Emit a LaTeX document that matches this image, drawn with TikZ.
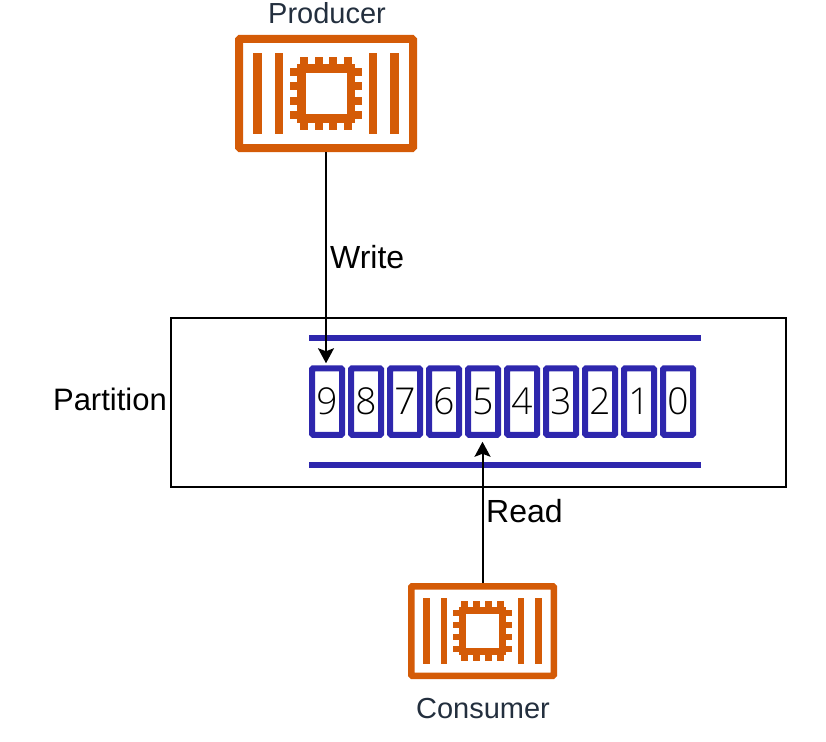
\documentclass[tikz,border=0pt]{standalone}
\usepackage{fontspec}
\setmainfont{Liberation Sans}
\newfontfamily\digitfont[UprightFont=* Light]{Open Sans}
\usepackage[HTML]{xcolor}
\usetikzlibrary{positioning, arrows.meta}
\definecolor{iconorange}{HTML}{D45B07}
\definecolor{cellblue}{HTML}{2E27AD}
\definecolor{iconlabel}{HTML}{232F3E}
\tikzset{
  iconbox/.style={draw=iconorange, line width=#1, rounded corners=1pt, inner sep=0pt},
  cellbox/.style={draw=cellblue, line width=6pt, rounded corners=1pt, inner sep=0pt,
    minimum width=30pt, minimum height=66.5pt, font=\digitfont\fontsize{37}{37}\selectfont},
  railline/.style={draw=cellblue, line width=6pt},
  linkline/.style={line width=2pt, -{Stealth[length=15pt,width=16pt,inset=3pt]}},
  biglabel/.style={font=\fontsize{32}{32}\selectfont, inner sep=0pt},
  iconname/.style={font=\fontsize{29}{29}\selectfont, text=iconlabel, inner sep=0pt},
  chipicon/.pic={
    % bars
    \foreach \barx in {-68.5,-47,47,68.5}
      \fill[iconorange] (\barx-4.2,-40) rectangle (\barx+4.2,40);
    % chip
    \fill[iconorange] (-29,-29) rectangle (29,29);
    \foreach \pinx in {-21.7,-7.2,7.2,21.7} {
      \fill[iconorange] (\pinx-4,-36) rectangle (\pinx+4,36);
      \fill[iconorange] (-36,\pinx-4) rectangle (36,\pinx+4);
    }
    \fill[white] (-20.5,-20.5) rectangle (20.5,20.5);
    \foreach \pinx in {-14.5,0,14.5} {
      \fill[white] (\pinx-3.2,-36.5) rectangle (\pinx+3.2,-29);
      \fill[white] (\pinx-3.2,29) rectangle (\pinx+3.2,36.5);
      \fill[white] (-36.5,\pinx-3.2) rectangle (-29,\pinx+3.2);
      \fill[white] (29,\pinx-3.2) rectangle (36.5,\pinx+3.2);
    }
  }
}

\begin{document}
\begin{tikzpicture}[x=1pt,y=-1pt]
\useasboundingbox (0,0) rectangle (826,741);
% partition
\node[draw, line width=1.5pt, inner sep=0pt, minimum width=615pt, minimum height=169pt] (partition) at (478.5,402.5) {};
\node[biglabel, anchor=east, font=\fontsize{31}{31}\selectfont] (partitionlabel) at (167,399) {Partition};
\draw[railline] (309,338) -- (700.5,338);
\draw[railline] (309,465) -- (700.5,465);
\foreach \d [count=\i from 0] in {9,8,...,0}
  \node[cellbox] (c\d) at ({327+39*\i},401.5) {\d};
% producer
\node[iconbox=8pt, minimum width=174pt, minimum height=109pt] (producer) at (326,93.5) {};
\pic at (producer) {chipicon};
\node[iconname] (producerlabel) at (327,13) {Producer};
% consumer
\node[iconbox=6.5pt, minimum width=142.5pt, minimum height=89.5pt] (consumer) at (482.5,631) {};
\pic[scale=0.82] at (consumer) {chipicon};
\node[iconname] (consumerlabel) at (483,709) {Consumer};
% links
\draw[linkline, shorten >=2pt] (producer.south) -- (producer.south |- c9.north);
\draw[linkline, shorten >=4pt] (consumer.north) -- (consumer.north |- c5.south);
\node[biglabel, anchor=west] (writelabel) at (330,257) {Write};
\node[biglabel, anchor=west] (readlabel) at (486,511) {Read};
\end{tikzpicture}
\end{document}
